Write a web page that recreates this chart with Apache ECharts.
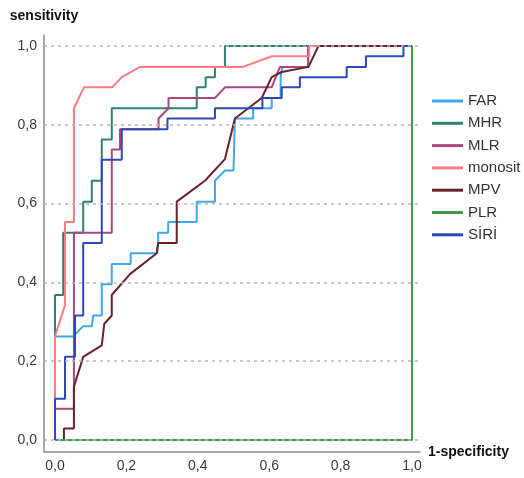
<!DOCTYPE html>
<html><head><meta charset="utf-8">
<script src="https://cdn.jsdelivr.net/npm/echarts@6/dist/echarts.min.js"></script>
<style>html,body{margin:0;padding:0;background:#fff}#c{width:524px;height:478px}</style>
</head><body><div id="c"></div>
<script>
const tickValues = [0, 0.2, 0.4, 0.6, 0.8, 1.0];
const seriesNames = ['FAR', 'MHR', 'MLR', 'monosit', 'MPV', 'PLR', 'SİRİ'];

const FAR = [[0,0],[0,0.263],[0.051,0.263],[0.079,0.289],[0.103,0.289],[0.107,0.316],[0.131,0.316],[0.131,0.395],[0.159,0.395],[0.159,0.447],[0.212,0.447],[0.212,0.474],[0.286,0.474],[0.289,0.5],[0.289,0.526],[0.317,0.526],[0.317,0.553],[0.397,0.553],[0.397,0.605],[0.448,0.605],[0.448,0.658],[0.476,0.684],[0.5,0.684],[0.504,0.816],[0.555,0.816],[0.555,0.842],[0.607,0.842],[0.607,0.868],[0.632,0.868],[0.632,0.921],[0.637,0.947],[0.709,0.947],[0.709,1],[1,1]];
const MHR = [[0,0],[0,0.368],[0.023,0.368],[0.023,0.526],[0.079,0.526],[0.079,0.605],[0.103,0.605],[0.103,0.658],[0.131,0.658],[0.131,0.763],[0.159,0.763],[0.159,0.842],[0.397,0.842],[0.397,0.895],[0.422,0.895],[0.422,0.921],[0.448,0.921],[0.448,0.947],[0.476,0.947],[0.476,1],[1,1]];
const MLR = [[0,0],[0,0.079],[0.053,0.079],[0.053,0.526],[0.159,0.526],[0.159,0.737],[0.182,0.737],[0.182,0.789],[0.29,0.789],[0.29,0.816],[0.318,0.842],[0.318,0.868],[0.448,0.868],[0.476,0.895],[0.607,0.895],[0.63,0.947],[0.709,0.947],[0.709,1],[1,1]];
const monosit = [[0,0],[0,0.263],[0.028,0.342],[0.028,0.553],[0.053,0.553],[0.053,0.842],[0.081,0.895],[0.16,0.895],[0.187,0.921],[0.238,0.947],[0.527,0.947],[0.607,0.974],[0.712,0.974],[0.712,1],[1,1]];
const MPV = [[0,0],[0.025,0],[0.025,0.029],[0.053,0.029],[0.053,0.135],[0.079,0.211],[0.084,0.216],[0.131,0.24],[0.138,0.295],[0.159,0.316],[0.159,0.368],[0.21,0.421],[0.215,0.424],[0.285,0.474],[0.289,0.5],[0.341,0.5],[0.341,0.605],[0.42,0.658],[0.476,0.713],[0.504,0.816],[0.579,0.868],[0.607,0.921],[0.635,0.934],[0.71,0.947],[0.738,1],[1,1]];
const PLR = [[0,0],[1,0],[1,1]];
const SIRI = [[0,0],[0,0.105],[0.028,0.105],[0.028,0.211],[0.056,0.211],[0.056,0.316],[0.079,0.316],[0.079,0.5],[0.131,0.5],[0.131,0.711],[0.187,0.711],[0.187,0.789],[0.315,0.789],[0.315,0.816],[0.448,0.816],[0.448,0.842],[0.581,0.842],[0.581,0.868],[0.635,0.868],[0.635,0.895],[0.686,0.895],[0.686,0.921],[0.817,0.921],[0.817,0.947],[0.871,0.947],[0.871,0.974],[0.976,0.974],[0.976,1],[1,1]];

const seriesData = [FAR, MHR, MLR, monosit, MPV, PLR, SIRI];
const colors = ['#3ea8ee', '#2e8070', '#ab4780', '#ff7b84', '#6a2129', '#3f9c4f', '#2b49b9'];

const fmt = v => v.toFixed(1).replace('.', ',');
const chart = echarts.init(document.getElementById('c'));
const series = seriesData.map((d, i) => ({
  name: seriesNames[i], type: 'line', data: d, showSymbol: false, symbol: 'none',
  lineStyle: { width: 2, color: colors[i] }, itemStyle: { color: colors[i] },
  animation: false, z: 3
}));
series.unshift({
  name: 'grid', type: 'line', data: [], silent: true, z: 1, animation: false,
  markLine: {
    silent: true, symbol: 'none', animation: false, label: { show: false },
    lineStyle: { color: '#b5b5b5', width: 1.5, type: [3, 4] },
    data: tickValues.map(v => ({ yAxis: v }))
  }
});
chart.setOption({
  animation: false,
  grid: { left: 44, right: 104, top: 35, bottom: 26, containLabel: false },
  xAxis: {
    type: 'value', min: -11 / 357, max: 1 + 8 / 357,
    name: '1-specificity', nameLocation: 'end', nameGap: 8,
    nameTextStyle: { fontFamily: 'Liberation Sans', fontWeight: 'bold', fontSize: 14, color: '#111', verticalAlign: 'middle' },
    axisLine: { onZero: false, lineStyle: { color: '#8a8a8a', width: 1.5 } },
    axisTick: { show: false }, splitLine: { show: false },
    axisLabel: { customValues: tickValues, formatter: fmt, margin: 7, fontFamily: 'Liberation Sans', fontSize: 14, color: '#3a3a3a' }
  },
  yAxis: {
    type: 'value', min: -12 / 394, max: 1 + 11 / 394,
    name: 'sensitivity', nameLocation: 'end', nameGap: 12,
    nameTextStyle: { fontFamily: 'Liberation Sans', fontWeight: 'bold', fontSize: 14, color: '#111', align: 'center' },
    axisLine: { onZero: false, lineStyle: { color: '#8a8a8a', width: 1.5 } },
    axisTick: { show: false }, splitLine: { show: false },
    axisLabel: { customValues: tickValues, formatter: fmt, margin: 7, fontFamily: 'Liberation Sans', fontSize: 14, color: '#3a3a3a' }
  },
  legend: {
    data: seriesNames, orient: 'vertical', left: 427, top: 88,
    icon: 'rect', itemWidth: 31, itemHeight: 3, itemGap: 6.3,
    textStyle: { fontFamily: 'Liberation Sans', fontSize: 15, color: '#333', lineHeight: 16 }
  },
  series: series
});
</script></body></html>
